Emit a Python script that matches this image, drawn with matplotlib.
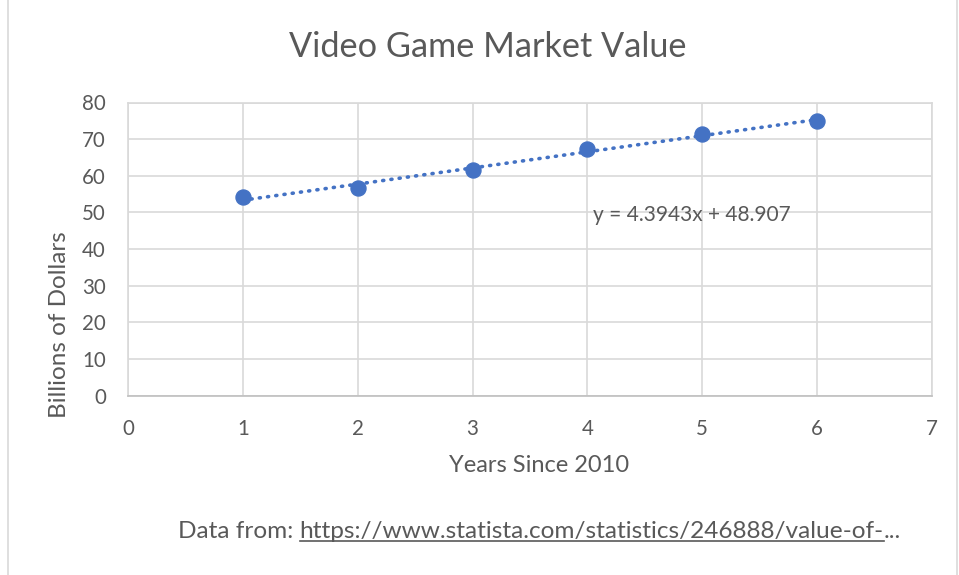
import matplotlib
matplotlib.use("Agg")
import matplotlib.pyplot as plt
import numpy as np
from matplotlib.lines import Line2D
from matplotlib.patches import Rectangle

years = [1, 2, 3, 4, 5, 6]
value_billions = [54.1, 56.7, 61.6, 67.2, 71.4, 75.0]
x_ticks = [0, 1, 2, 3, 4, 5, 6, 7]
y_ticks = [0, 10, 20, 30, 40, 50, 60, 70, 80]
equation = "y = 4.3943x + 48.907"
source_prefix = "Data from: "
source_url = "https://www.statista.com/statistics/246888/value-of-"

BLUE = "#4472C4"
GRID = "#d9d9d9"
TEXT = "#595959"

plt.rcParams["font.family"] = ["Lato", "DejaVu Sans"]

fig = plt.figure(figsize=(9.59, 5.75), dpi=100)
fig.patches.append(Rectangle((8 / 959, -0.01), 949 / 959, 1.02, transform=fig.transFigure,
                             fill=False, edgecolor=GRID, linewidth=1.2))

ax = fig.add_axes([128 / 959, 1 - 395.5 / 575, 804 / 959, (395.5 - 102.5) / 575])

# linear trendline fitted to the points, as Excel does
slope, intercept = np.polyfit(years, value_billions, 1)
xs = np.array([years[0], years[-1]])
ax.plot(xs, slope * xs + intercept, color=BLUE, linewidth=2.6,
        linestyle=(0, (0.3, 2.0)), dash_capstyle="round", zorder=3)
ax.plot(years, value_billions, "o", color=BLUE, markersize=10.8, zorder=4)

ax.set_xlim(0, 7)
ax.set_ylim(0, 80)
ax.set_xticks(x_ticks)
ax.set_yticks(y_ticks)
ax.grid(True, color=GRID, linewidth=1.2)
ax.set_axisbelow(True)
for side in ["top", "right", "left"]:
    ax.spines[side].set_color(GRID)
    ax.spines[side].set_linewidth(1.2)
ax.spines["bottom"].set_color("#bfbfbf")
ax.spines["bottom"].set_linewidth(1.2)
ax.tick_params(length=0, labelsize=14.8, labelcolor=TEXT)
ax.tick_params(axis="x", pad=17)
ax.tick_params(axis="y", pad=16)

ax.text(4.05, 49.3, equation, fontsize=15, color=TEXT, va="center", ha="left")

fig.text(488 / 959, 1 - 47 / 575, "Video Game Market Value", fontsize=24.7,
         color=TEXT, ha="center", va="center")
fig.text(539 / 959, 1 - 465 / 575, "Years Since 2010", fontsize=17,
         color=TEXT, ha="center", va="center")
fig.text(60 / 959, 1 - 325 / 575, "Billions of Dollars", fontsize=17.5,
         color=TEXT, ha="center", va="center", rotation=90)

# source line with underlined link part
renderer = fig.canvas.get_renderer()
t1 = fig.text(178 / 959, 1 - 532 / 575, source_prefix, fontsize=17.6, color=TEXT,
              ha="left", va="center")
bb1 = t1.get_window_extent(renderer)
t2 = fig.text(bb1.x1 / 959, 1 - 532 / 575, source_url, fontsize=17.6, color=TEXT,
              ha="left", va="center")
bb2 = t2.get_window_extent(renderer)
fig.lines.append(Line2D([bb2.x0 / 959, bb2.x1 / 959], [(bb2.y0 + 2) / 575] * 2,
                        transform=fig.transFigure, color=TEXT, linewidth=1.2))
fig.text(bb2.x1 / 959, 1 - 532 / 575, "...", fontsize=17.6, color=TEXT,
         ha="left", va="center")

fig.savefig("out.png", dpi=100)
